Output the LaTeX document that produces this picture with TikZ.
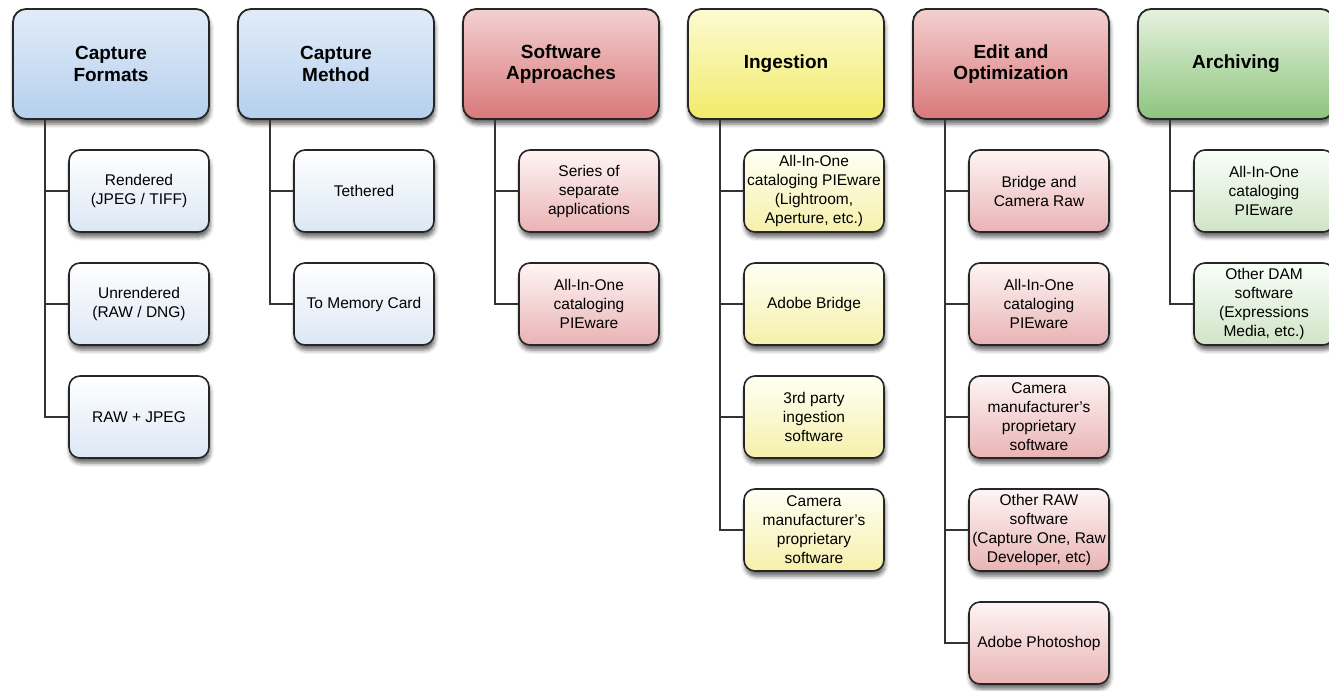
\documentclass[tikz,border=0pt]{standalone}
\usepackage{fontspec}
\setmainfont{Liberation Sans}
\usetikzlibrary{shadows.blur}
% Couleurs des dégradés
\definecolor{bleuHaut}{HTML}{E2ECF8}
\definecolor{bleuBas}{HTML}{B5CFEE}
\definecolor{bleuClair}{HTML}{DCE7F5}
\definecolor{rougeHaut}{HTML}{F4D0D0}
\definecolor{rougeBas}{HTML}{D9787A}
\definecolor{rougeClair}{HTML}{E9B3B4}
\definecolor{jauneHaut}{HTML}{FCFBD2}
\definecolor{jauneBas}{HTML}{F2EB6A}
\definecolor{jauneClair}{HTML}{F6F0AA}
\definecolor{vertHaut}{HTML}{E6F2E0}
\definecolor{vertBas}{HTML}{8DC47D}
\definecolor{vertClair}{HTML}{CFE4C6}

\begin{document}
\begin{tikzpicture}[x=1pt, y=-1pt,
  ombre/.style={blur shadow={shadow xshift=1pt, shadow yshift=-5pt, shadow blur radius=4pt, shadow opacity=60}},
  titre/.style={ombre, draw=black!85, line width=1.8pt, rounded corners=13pt,
    minimum width=196pt, minimum height=110pt, align=center,
    font=\fontsize{19}{21.5}\selectfont\bfseries},
  boite/.style={ombre, draw=black!85, line width=1.6pt, rounded corners=11pt,
    minimum width=140pt, minimum height=82pt, align=center, inner sep=0pt,
    font=\fontsize{15.5}{19}\selectfont},
  bleu/.style={top color=bleuHaut, bottom color=bleuBas},
  bleuB/.style={top color=white, bottom color=bleuClair},
  rouge/.style={top color=rougeHaut, bottom color=rougeBas},
  rougeB/.style={top color=red!4, bottom color=rougeClair},
  jaune/.style={top color=jauneHaut, bottom color=jauneBas},
  jauneB/.style={top color=yellow!4, bottom color=jauneClair},
  vert/.style={top color=vertHaut, bottom color=vertBas},
  vertB/.style={top color=green!2, bottom color=vertClair},
  lien/.style={draw=black!80, line width=1.4pt}]
\useasboundingbox (0,0) rectangle (1329,690);

% Départs des liens sous les titres
\coordinate (cfT) at (45,120);
\coordinate (cmT) at (270,120);
\coordinate (saT) at (495,120);
\coordinate (ingT) at (720,120);
\coordinate (eoT) at (945,120);
\coordinate (arcT) at (1170,120);

% Titres des colonnes
\node[titre, bleu] (cf) at (111,64) {Capture\\Formats};
\node[titre, bleu] (cm) at (336,64) {Capture\\Method};
\node[titre, rouge] (sa) at (561,64) {Software\\Approaches};
\node[titre, jaune] (ing) at (786,64) {Ingestion};
\node[titre, rouge] (eo) at (1011,64) {Edit and\\Optimization};
\node[titre, vert] (arc) at (1236,64) {Archiving};

% Capture Formats
\node[boite, bleuB] (cf1) at (139,191) {Rendered\\(JPEG / TIFF)};
\node[boite, bleuB] (cf2) at (139,304) {Unrendered\\(RAW / DNG)};
\node[boite, bleuB] (cf3) at (139,417) {RAW + JPEG};

% Capture Method
\node[boite, bleuB] (cm1) at (364,191) {Tethered};
\node[boite, bleuB] (cm2) at (364,304) {To Memory Card};

% Software Approaches
\node[boite, rougeB] (sa1) at (589,191) {Series of\\separate\\applications};
\node[boite, rougeB] (sa2) at (589,304) {All-In-One\\cataloging\\PIEware};

% Ingestion
\node[boite, jauneB] (ing1) at (814,191) {All-In-One\\cataloging PIEware\\(Lightroom,\\Aperture, etc.)};
\node[boite, jauneB] (ing2) at (814,304) {Adobe Bridge};
\node[boite, jauneB] (ing3) at (814,417) {3rd party\\ingestion\\software};
\node[boite, jauneB] (ing4) at (814,530) {Camera\\manufacturer's\\proprietary\\software};

% Edit and Optimization
\node[boite, rougeB] (eo1) at (1039,191) {Bridge and\\Camera Raw};
\node[boite, rougeB] (eo2) at (1039,304) {All-In-One\\cataloging\\PIEware};
\node[boite, rougeB] (eo3) at (1039,417) {Camera\\manufacturer's\\proprietary\\software};
\node[boite, rougeB] (eo4) at (1039,530) {Other RAW\\software\\(Capture One, Raw\\Developer, etc)};
\node[boite, rougeB] (eo5) at (1039,643) {Adobe Photoshop};

% Archiving
\node[boite, vertB] (arc1) at (1264,191) {All-In-One\\cataloging\\PIEware};
\node[boite, vertB] (arc2) at (1264,304) {Other DAM\\software\\(Expressions\\Media, etc.)};

% Arborescence
\draw[lien] (cfT) |- (cf1.west) (cfT) |- (cf2.west) (cfT) |- (cf3.west);
\draw[lien] (cmT) |- (cm1.west) (cmT) |- (cm2.west);
\draw[lien] (saT) |- (sa1.west) (saT) |- (sa2.west);
\draw[lien] (ingT) |- (ing1.west) (ingT) |- (ing2.west) (ingT) |- (ing3.west) (ingT) |- (ing4.west);
\draw[lien] (eoT) |- (eo1.west) (eoT) |- (eo2.west) (eoT) |- (eo3.west) (eoT) |- (eo4.west) (eoT) |- (eo5.west);
\draw[lien] (arcT) |- (arc1.west) (arcT) |- (arc2.west);
\end{tikzpicture}
\end{document}
